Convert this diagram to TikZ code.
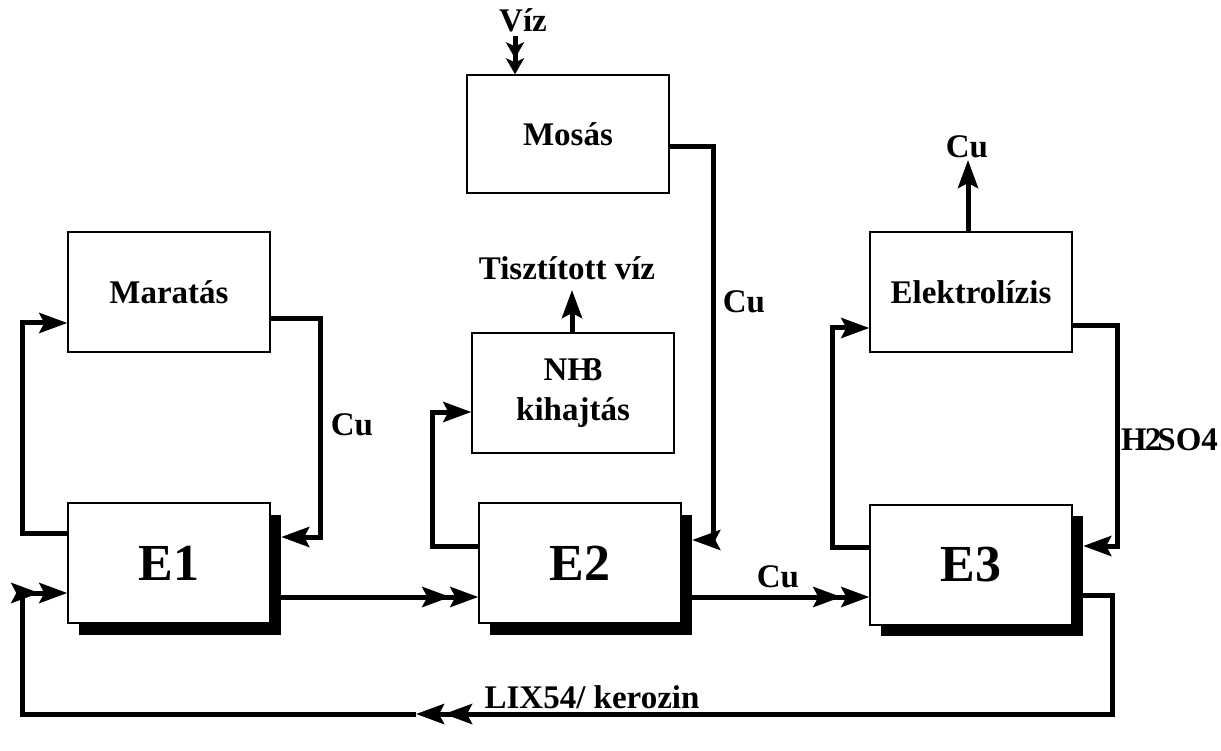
\documentclass[tikz,border=0pt]{standalone}
\usepackage{fontspec}
\setmainfont{Liberation Serif}
\usetikzlibrary{arrows.meta}
\begin{document}
\begin{tikzpicture}[x=1pt,y=-1pt,
  box/.style={draw,line width=1.3pt,fill=white,minimum width=202pt,minimum height=120pt,inner sep=0pt,font=\fontsize{33}{40}\selectfont\bfseries,align=center},
  ebox/.style={box,font=\fontsize{52}{56}\selectfont\bfseries},
  shadowbox/.style={fill=black,minimum width=202pt,minimum height=120pt,inner sep=0pt},
  lbl/.style={font=\fontsize{33}{38}\selectfont\bfseries,inner sep=0pt},
  flow/.style={line width=5pt,line join=miter},
  single/.style={flow,-{Stealth[length=28pt,width=20pt,inset=5pt]}},
  double/.style={flow,-{Stealth[length=28pt,width=20pt,inset=5pt]Stealth[length=28pt,width=20pt,inset=5pt]}}
]
\useasboundingbox (0,0) rectangle (1221,751);
% shadows
\node[shadowbox] (E1s) at (180,575) {};
\node[shadowbox] (E2s) at (591,575) {};
\node[shadowbox] (E3s) at (982,576) {};
% boxes
\node[box] (Mar) at (169,292) {Maratás};
\node[ebox] (E1) at (169,563) {E1};
\node[box,minimum height=118pt] (Mos) at (568,134) {Mosás};
\node[box] (NH) at (573,393) {NH\kern-7pt 3\\kihajtás};
\node[ebox] (E2) at (580,563) {E2};
\node[box] (El) at (971,292) {Elektrolízis};
\node[ebox] (E3) at (971,565) {E3};
% labels
\node[lbl] (viz) at (523,20) {Víz};
\node[lbl] (tv) at (567,268) {Tisztított víz};
\node[lbl] (cu1) at (352,425) {Cu};
\node[lbl] (cu2) at (744,302) {Cu};
\node[lbl] (cu3) at (778,577) {Cu};
\node[lbl] (cu4) at (967,147) {Cu};
\node[lbl,anchor=west] (h2so4) at (1121,440) {H\kern-2pt 2\kern-4pt SO4};
\node[lbl] (lix) at (592,697) {LIX54/ kerozin};
\coordinate (m) at (416,714);
% E1 loop
\draw[single] (E1.west |- 0,533) -- (22,533) -- (22,323) -- (Mar.west |- 0,323);
\draw[single] (Mar.east |- 0,319) -- (320,319) -- (320,537) -- (E1s.east |- 0,537);
% main flow
\draw[double] (E1s.east |- 0,597) -- (E2.west |- 0,597);
\draw[double] (E2s.east |- 0,597) -- (E3.west |- 0,597);
\draw[double] (E3s.east |- 0,595) -- (1112,595) -- (1112,714) -- (m);
\draw[double] (m) -- (22,714) -- (22,593) -- (E1.west |- 0,593);
% E2 loops
\draw[single] (E2.west |- 0,546) -- (432,546) -- (432,412) -- (NH.west |- 0,412);
\draw[single] (NH.north -| 572,0) -- (572,290);
\draw[flow,-{Stealth[length=16pt,width=18pt,inset=4pt]Stealth[length=16pt,width=18pt,inset=4pt]}] (515,36) -- (Mos.north -| 515,0);
\draw[single] (Mos.east |- 0,147) -- (713,147) -- (713,540) -- (E2s.east |- 0,540);
% E3 loops
\draw[single] (E3.west |- 0,547) -- (832,547) -- (832,328) -- (El.west |- 0,328);
\draw[single] (El.east |- 0,326) -- (1117,326) -- (1117,546) -- (E3s.east |- 0,546);
\draw[single] (El.north -| 968,0) -- (968,160);
\end{tikzpicture}
\end{document}
